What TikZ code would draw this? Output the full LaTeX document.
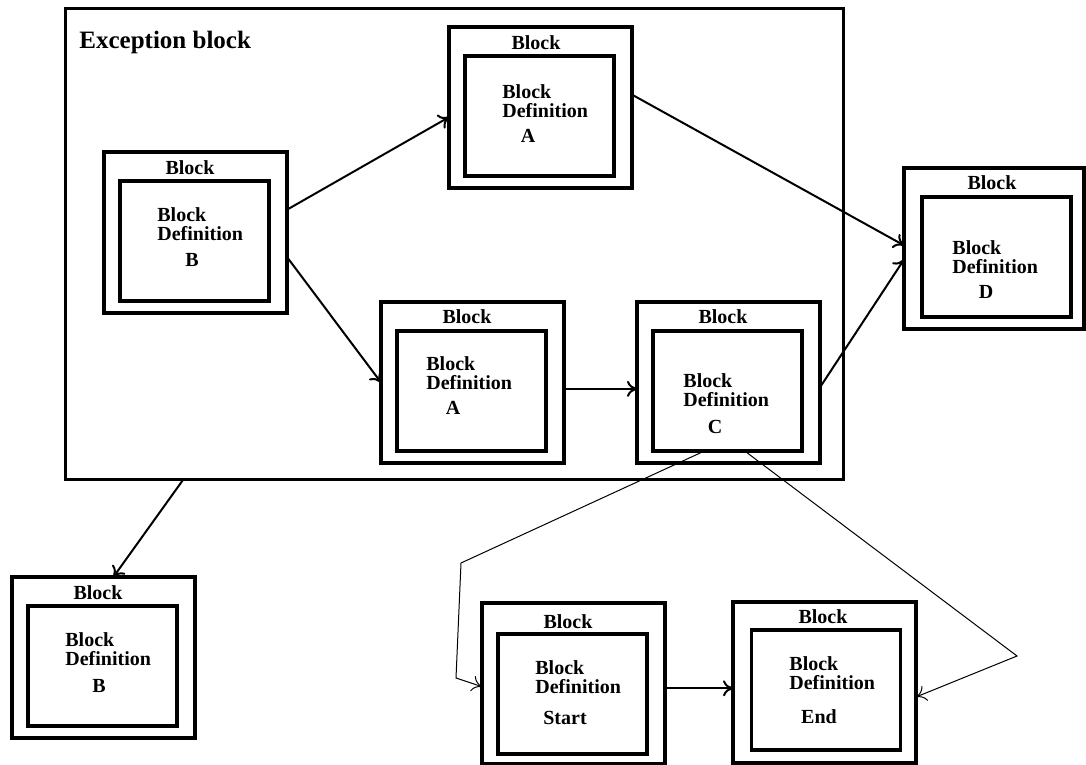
\documentclass[tikz,border=0pt]{standalone}
\usepackage{fontspec}
\setmainfont{Liberation Serif}
\usetikzlibrary{arrows.meta}

\begin{document}
\begin{tikzpicture}[x=0.5pt, y=-0.5pt, >={To[length=5pt,width=8pt]},
    outerbox/.style={draw, line width=1.6pt, minimum width=91.5pt, minimum height=80.5pt, inner sep=0pt, outer sep=0pt},
    innerbox/.style={draw, line width=1.6pt, minimum width=74.5pt, minimum height=60pt, inner sep=0pt, outer sep=0pt},
    blocktitle/.style={font=\fontsize{10}{12}\selectfont\bfseries, inner sep=0pt},
    deftext/.style={font=\fontsize{10}{9.5}\selectfont\bfseries, align=left, anchor=west, inner sep=0pt},
    link/.style={->, line width=1pt},
    thinlink/.style={->, line width=0.5pt}]
    \useasboundingbox (0,0) rectangle (1086,765);

    % Exception block
    \node[draw, line width=1.5pt, minimum width=389pt, minimum height=235pt, outer sep=0pt] (exc) at (454,244) {};
    \node[font=\fontsize{12.5}{15}\selectfont\bfseries, anchor=west, inner sep=0pt] (exclabel) at (79,42) {Exception block};

    % Block B
    \node[outerbox] (bB) at (195.5,232.5) {};
    \node[innerbox] (bBin) at (194.5,241) {};
    \node[blocktitle] (bBtitle) at (190,168) {Block};
    \node[deftext] (bBdef) at (157,224) {Block\\Definition};
    \node[blocktitle] (bBname) at (192,260) {B};

    % Block A (top)
    \node[outerbox] (aT) at (540.5,107.5) {};
    \node[innerbox] (aTin) at (539.5,116) {};
    \node[blocktitle] (aTtitle) at (536,43) {Block};
    \node[deftext] (aTdef) at (502,101) {Block\\Definition};
    \node[blocktitle] (aTname) at (528,136) {A};

    % Block A (bottom)
    \node[outerbox] (aB) at (472.5,382.5) {};
    \node[innerbox] (aBin) at (471.5,391) {};
    \node[blocktitle] (aBtitle) at (467,317) {Block};
    \node[deftext] (aBdef) at (426,373.5) {Block\\Definition};
    \node[blocktitle] (aBname) at (453,408) {A};

    % Block C
    \node[outerbox] (cC) at (728.5,382.5) {};
    \node[innerbox] (cCin) at (727.5,391) {};
    \node[blocktitle] (cCtitle) at (723,317) {Block};
    \node[deftext] (cCdef) at (683,390.5) {Block\\Definition};
    \node[blocktitle] (cCname) at (715,427) {C};

    % Block D
    \node[outerbox, minimum width=90pt] (dD) at (994,248.5) {};
    \node[innerbox] (dDin) at (996.5,257) {};
    \node[blocktitle] (dDtitle) at (992,183) {Block};
    \node[deftext] (dDdef) at (952,257.5) {Block\\Definition};
    \node[blocktitle] (dDname) at (986,292) {D};

    % Block B (outside)
    \node[outerbox] (bL) at (103.5,657.5) {};
    \node[innerbox] (bLin) at (102.5,666) {};
    \node[blocktitle] (bLtitle) at (98,593) {Block};
    \node[deftext] (bLdef) at (65,649.5) {Block\\Definition};
    \node[blocktitle] (bLname) at (99,686) {B};

    % Block Start
    \node[outerbox] (sS) at (573.5,683.5) {};
    \node[innerbox] (sSin) at (572.5,694) {};
    \node[blocktitle] (sStitle) at (568,622) {Block};
    \node[deftext] (sSdef) at (535,677.5) {Block\\Definition};
    \node[blocktitle] (sSname) at (565,718) {Start};

    % Block End
    \node[outerbox] (eE) at (824.5,682.5) {};
    \node[innerbox] (eEin) at (826,690) {};
    \node[blocktitle] (eEtitle) at (823,617) {Block};
    \node[deftext] (eEdef) at (789,673.5) {Block\\Definition};
    \node[blocktitle] (eEname) at (819,717) {End};

    % Bends of the thin lines
    \coordinate (bendL1) at (461,563);
    \coordinate (bendL2) at (456,678);
    \coordinate (bendR) at (1017,656);

    % Connectors
    \draw[link] (bB.14) -- (aT.186);
    \draw[link] (bB.-15) -- (aB.west);
    \draw[link] (aB.-4) -- (aB.-4 -| cC.west);
    \draw[link] (aT.8) -- (dD.178);
    \draw[link] (cC.-3) -- (dD.187);
    \draw[link] (exc.221) -- (bL.83);
    \draw[link] (sS.-3) -- (sS.-3 -| eE.west);

    % Thin lines from C
    \draw[thinlink] (cCin.249) -- (bendL1) -- (bendL2) -- (sS.182);
    \draw[thinlink] (cCin.286) -- (bendR) -- (eE.-9);
\end{tikzpicture}
\end{document}
